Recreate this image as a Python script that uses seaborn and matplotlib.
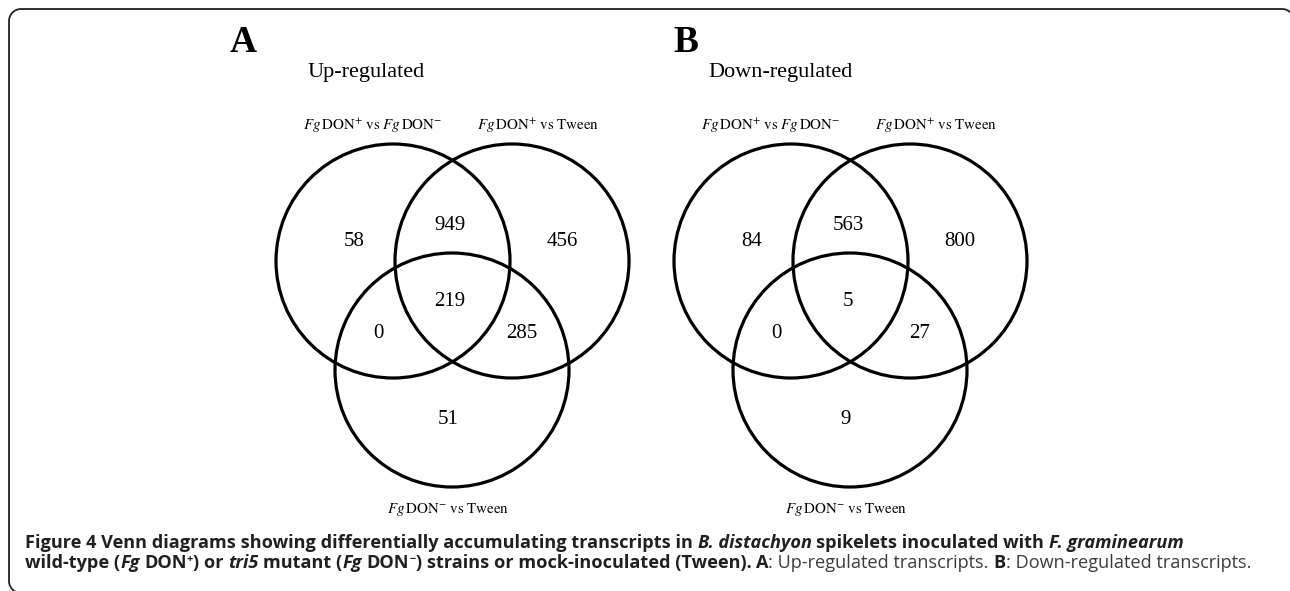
import matplotlib
matplotlib.use("Agg")
import numpy as np
import matplotlib.pyplot as plt
from matplotlib.patches import Circle
import seaborn as sns

sns.set_theme(style="white")
plt.rcParams["mathtext.fontset"] = "stix"

# Venn region counts (order: only1, 1&2, only2, 1&3, 1&2&3, 2&3, only3)
regions = ["only_1", "1_2", "only_2", "1_3", "1_2_3", "2_3", "only_3"]
up_counts = [58, 949, 456, 0, 219, 285, 51]
down_counts = [84, 563, 800, 0, 5, 27, 9]

set_labels = [
    r"$\mathit{Fg}\,\mathrm{DON}^{+}\ \mathrm{vs}\ \mathit{Fg}\,\mathrm{DON}^{-}$",
    r"$\mathit{Fg}\,\mathrm{DON}^{+}\ \mathrm{vs\ Tween}$",
    r"$\mathit{Fg}\,\mathrm{DON}^{-}\ \mathrm{vs\ Tween}$",
]
panel_letters = ["A", "B"]
panel_titles = ["Up-regulated", "Down-regulated"]

# layout (pixels, figure is 1290 x 591)
panel_x = [452, 850]
letter_x = [230, 673]
title_x = [308, 708]
circle_off = [(-59, 261), (60, 261), (0, 370)]
radius = 117
region_off = {
    "only_1": (-98, 242), "1_2": (-2, 225), "only_2": (110, 242),
    "1_3": (-74, 333), "1_2_3": (-2, 302), "2_3": (70, 333),
    "only_3": (-4, 420),
}
label_off = [(-79, 126), (86, 126), (-4, 510)]

fig = plt.figure(figsize=(12.9, 5.91), dpi=100)
ax = fig.add_axes([0, 0, 1, 1])
ax.set_xlim(0, 1290)
ax.set_ylim(591, 0)
ax.axis("off")

# outer frame: only top and left edges fall inside the picture
rr, L, T, R, B = 12, 9, 9, 1294, 593
t = np.linspace(0, np.pi / 2, 20)
fx = np.concatenate([L + rr - rr * np.sin(t), L + rr - rr * np.cos(t),
                     R - rr + rr * np.sin(t)])
fy = np.concatenate([B - rr + rr * np.cos(t), T + rr - rr * np.sin(t),
                     T + rr - rr * np.cos(t)])
ax.plot(fx, fy, color="#222222", lw=1.3, clip_on=False)

for p, counts in enumerate([up_counts, down_counts]):
    px = panel_x[p]
    for dx, dy in circle_off:
        ax.add_patch(Circle((px + dx, dy), radius, fill=False, ec="black", lw=2.3))
    for name, val in zip(regions, counts):
        dx, dy = region_off[name]
        ax.text(px + dx, dy, str(val), ha="center", va="center",
                fontsize=15, family="Liberation Serif", color="black")
    for lab, (dx, dy) in zip(set_labels, label_off):
        ax.text(px + dx, dy, lab, ha="center", va="center", fontsize=10.8, color="black")
    ax.text(letter_x[p], 43, panel_letters[p], ha="left", va="center", fontsize=27,
            weight="bold", family="Liberation Serif", color="black")
    ax.text(title_x[p], 72, panel_titles[p], ha="left", va="center", fontsize=16,
            family="Liberation Serif", color="black")

# caption, drawn run by run
cap_font = "Open Sans"
cap_size = 13.1
renderer = fig.canvas.get_renderer()


def text_w(s, **kw):
    tx = ax.text(0, 0, s, **kw)
    w = tx.get_window_extent(renderer=renderer).width
    tx.remove()
    return w


def draw_runs(x, y, runs):
    for txt, weight, style, color, sup in runs:
        fs = cap_size * 0.6 if sup else cap_size
        kw = dict(fontsize=fs, weight=weight, style=style, family=cap_font)
        # advance of the run, measured between two guard letters
        adv = text_w("x" + txt + "x", **kw) - text_w("xx", **kw)
        lead = text_w("x" + txt.lstrip() + "x", **kw) - text_w("xx", **kw)
        ax.text(x + adv - lead, y - (6 if sup else 0), txt.lstrip(), color=color,
                ha="left", va="baseline", **kw)
        x += adv
    return x


dark = "#231f20"
grey = "#3c3c3c"
line1 = [
    ("Figure 4 Venn diagrams showing differentially accumulating transcripts in ", "bold", "normal", dark, False),
    ("B. distachyon", "bold", "italic", dark, False),
    (" spikelets inoculated with ", "bold", "normal", dark, False),
    ("F. graminearum", "bold", "italic", dark, False),
]
line2 = [
    ("wild-type (", "bold", "normal", dark, False),
    ("Fg", "bold", "italic", dark, False),
    (" DON", "bold", "normal", dark, False),
    ("+", "bold", "normal", dark, True),
    (") or ", "bold", "normal", dark, False),
    ("tri5", "bold", "italic", dark, False),
    (" mutant (", "bold", "normal", dark, False),
    ("Fg", "bold", "italic", dark, False),
    (" DON", "bold", "normal", dark, False),
    ("\u2212", "bold", "normal", dark, True),
    (") strains or mock-inoculated (Tween). ", "bold", "normal", dark, False),
    ("A", "bold", "normal", dark, False),
    (": Up-regulated transcripts. ", "normal", "normal", grey, False),
    ("B", "bold", "normal", dark, False),
    (": Down-regulated transcripts.", "normal", "normal", grey, False),
]
draw_runs(25, 548, line1)
draw_runs(25, 568, line2)

fig.savefig("out.png", dpi=100)
